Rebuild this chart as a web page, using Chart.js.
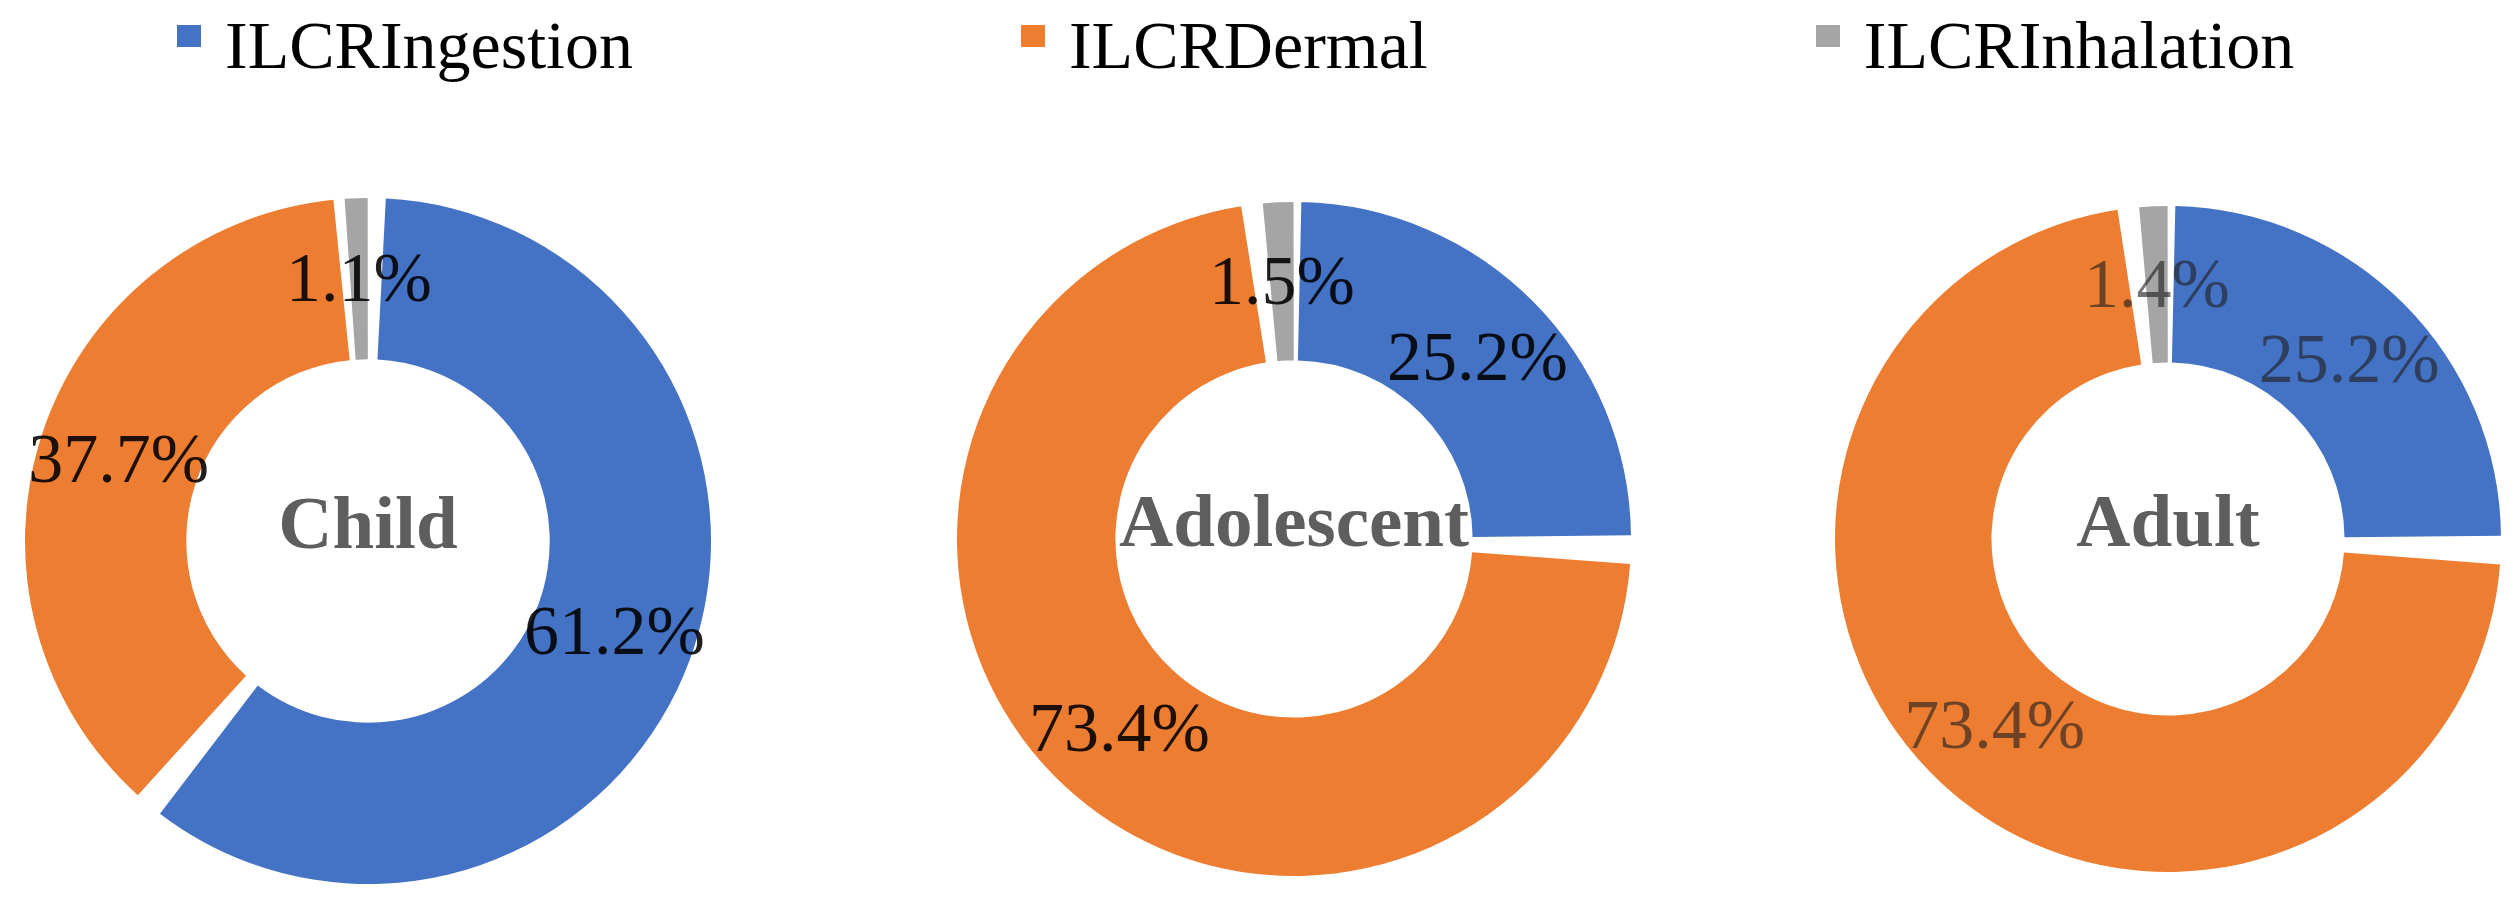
<html><head>
<title>ILCR contribution by age group</title>
<style>
  body {
    margin: 0;
    background: #fff;
    width: 2520px;
    height: 914px;
    overflow: hidden;
    position: relative;
    font-family: 'Liberation Serif', 'Times New Roman', serif;
  }
  .legend {
    position: absolute;
    left: 177px;
    top: 11px;
    display: flex;
    column-gap: 388px;
    font-size: 68px;
    line-height: 68px;
    color: #000;
  }
  .legend-item {
    display: flex;
    align-items: center;
    white-space: nowrap;
  }
  .legend-box {
    display: inline-block;
    width: 24px;
    height: 22px;
    margin-right: 24px;
    margin-top: -18px;
  }
  .donut {
    position: absolute;
  }
  #childWrap { left: 25px; top: 198px; width: 686px; height: 686px; }
  #adolescentWrap { left: 957px; top: 202px; width: 674px; height: 674px; }
  #adultWrap { left: 1835px; top: 206px; width: 666px; height: 666px; }
</style>
<script src="https://cdn.jsdelivr.net/npm/chart.js"></script>
</head>
<body>
<div class="legend" id="legend"></div>
<div class="donut" id="childWrap"><canvas id="childChart"></canvas></div>
<div class="donut" id="adolescentWrap"><canvas id="adolescentChart"></canvas></div>
<div class="donut" id="adultWrap"><canvas id="adultChart"></canvas></div>

<script>
// categories and values (percent contribution of each pathway)
const categories = ['ILCRIngestion', 'ILCRDermal', 'ILCRInhalation'];
const groups = ['Child', 'Adolescent', 'Adult'];
const childValues = [61.2, 37.7, 1.1];
const adolescentValues = [25.2, 73.4, 1.5];
const adultValues = [25.2, 73.4, 1.4];

const sliceColors = ['#4472C4', '#ED7D31', '#A5A5A5'];
const labelColors = ['rgba(0,0,0,0.88)', 'rgba(0,0,0,0.88)', 'rgba(30,30,30,0.62)'];
const SPACING = 14;

// legend built from the same arrays
const legendEl = document.getElementById('legend');
categories.forEach((name, i) => {
  const item = document.createElement('div');
  item.className = 'legend-item';
  item.innerHTML = `<span class="legend-box" style="background:${sliceColors[i]}"></span><span>${name}</span>`;
  legendEl.appendChild(item);
});

// draws the percent labels on the arcs and the group name in the hole
const donutLabels = {
  id: 'donutLabels',
  afterDatasetsDraw(chart, args, opts) {
    const ctx = chart.ctx;
    const meta = chart.getDatasetMeta(0);
    const values = chart.data.datasets[0].data;
    ctx.save();
    ctx.textAlign = 'center';
    ctx.textBaseline = 'middle';
    ctx.font = '70px "Liberation Serif"';
    ctx.fillStyle = opts.color;
    meta.data.forEach((arc, i) => {
      const p = arc.getProps(['x', 'y', 'startAngle', 'endAngle', 'innerRadius', 'outerRadius'], true);
      const mid = (p.startAngle + p.endAngle) / 2;
      const r = (p.innerRadius + p.outerRadius) / 2 + SPACING / 2;
      ctx.fillText(values[i].toFixed(1) + '%', p.x + Math.cos(mid) * r, p.y + Math.sin(mid) * r + 4);
    });
    const c = meta.data[0];
    ctx.font = 'bold 75px "Liberation Serif"';
    ctx.fillStyle = '#5e5e5e';
    ctx.fillText(opts.title, c.x, c.y - 12);
    ctx.restore();
  }
};

function makeDonut(canvasId, values, title, labelColor) {
  return new Chart(document.getElementById(canvasId), {
    type: 'doughnut',
    data: {
      labels: categories,
      datasets: [{
        data: values,
        backgroundColor: sliceColors,
        borderWidth: 0
      }]
    },
    options: {
      responsive: true,
      maintainAspectRatio: false,
      animation: false,
      cutout: '52%',
      spacing: SPACING,
      layout: { padding: 0 },
      plugins: {
        legend: { display: false },
        tooltip: { enabled: false },
        donutLabels: { title: title, color: labelColor }
      }
    },
    plugins: [donutLabels]
  });
}

makeDonut('childChart', childValues, groups[0], labelColors[0]);
makeDonut('adolescentChart', adolescentValues, groups[1], labelColors[1]);
makeDonut('adultChart', adultValues, groups[2], labelColors[2]);
</script>
</body></html>
